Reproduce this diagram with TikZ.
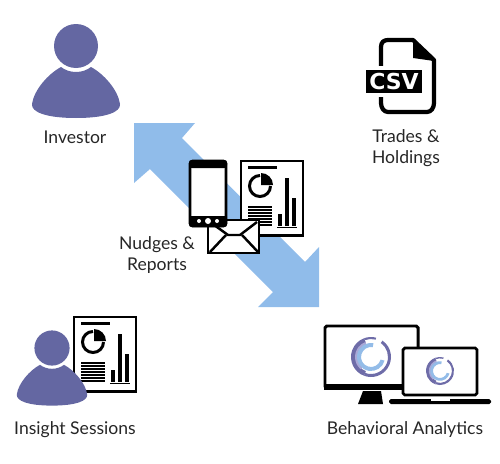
\documentclass[tikz,border=0pt]{standalone}
\usepackage{fontspec}
\setmainfont{Lato}
\newfontfamily\csvfont{DejaVu Sans}
\usepackage{xcolor}
\usetikzlibrary{positioning, calc}
\definecolor{personblue}{HTML}{6467A2}
\definecolor{flowblue}{HTML}{90BCEA}
\definecolor{ringdark}{HTML}{6E6CA8}
\definecolor{ringmid}{HTML}{A9A8D6}
\definecolor{ringlight}{HTML}{93BCE8}
\newcommand{\ringpart}[4]{
  (#1:#3) arc[start angle=#1, end angle=#2, radius=#3]
  -- (#2:#4) arc[start angle=#2, end angle=#1, radius=#4] -- cycle
}
\tikzset{
  caption/.style={
    align=center, font=\fontsize{10}{12}\selectfont, text=black!85,
    inner sep=0pt
  },
  flowarrow/.style={fill=flowblue},
  sheet/.style={draw=black, fill=white, line width=1.6pt},
  person/.pic={
    \fill[personblue] (0,0) circle[radius=22];
    \fill[personblue] (0,26) .. controls (-6,26) and (-11,24) .. (-15,21)
      .. controls (-28,28) and (-42,44) .. (-44,58)
      .. controls (-45,66) and (-30,72) .. (0,72)
      .. controls (30,72) and (45,66) .. (44,58)
      .. controls (42,44) and (28,28) .. (15,21)
      .. controls (11,24) and (6,26) .. (0,26) -- cycle;
  },
  report/.pic={
    \draw[sheet] (1,1) rectangle (63,75);
    \fill[black] (0,74) rectangle (64,77);
    \fill[black] (8,6) rectangle (37,9);
    \draw[black, line width=1.7pt] (20,15.5) arc[start angle=-90, end angle=-360, radius=10.5];
    \fill[black] (21,13) -- (21,25) -- (33,25) arc[start angle=0, end angle=-90, radius=12] -- cycle;
    \foreach \ly in {46,49,...,64}
      \fill[black] (8,\ly) rectangle (32,\ly+1.6);
    \fill[black] (38,54) rectangle (42,66);
    \fill[black] (45,18) rectangle (49,66);
    \fill[black] (52,38) rectangle (56,66);
    \draw[black, line width=.3pt] (37,67.5) -- (57,67.5);
  },
  ring/.pic={
    \fill[ringdark] \ringpart{-55}{110}{20}{17};
    \fill[ringdark] \ringpart{110}{250}{20}{15};
    \fill[ringdark] \ringpart{250}{285}{20}{18};
    \fill[ringmid] \ringpart{130}{250}{16}{12};
    \fill[ringlight] \ringpart{280}{15}{14}{10};
  }
}
\begin{document}
\begin{tikzpicture}[x=0.02cm, y=-0.02cm]
\useasboundingbox (0,0) rectangle (500,463);

%% ── Flow arrow ───────────────────────────────────────────────
\coordinate (investorcorner) at (134,123);
\coordinate (analyticscorner) at (319,307);
\fill[flowarrow] (investorcorner) -- ++(61,0) -- ++(-13,15) -- (305,262)
  -- (319,247) -- (analyticscorner) -- ++(-61,0) -- ++(15,-15)
  -- (150,169) -- (134,183) -- cycle;

%% ── Investor ─────────────────────────────────────────────────
\pic (investorfig) at (76,46) {person};
\node[caption] (investor) at (75,137) {Investor};

%% ── Trades ───────────────────────────────────────────────────
\draw[black, line width=2.4pt, line join=round] (381,47) .. controls (381,42) and (384,40) .. (388,40)
  -- (413,40) -- (434,60) -- (434,103) .. controls (434,108) and (431,112) .. (427,112)
  -- (388,112) .. controls (384,112) and (381,108) .. (381,103) -- cycle;
\fill[black] (413,40) -- (413,58) -- (434,61) -- cycle;
\fill[white] (376,66) rectangle (386,97);
\node[fill=black, text=white, minimum width=1.12cm, minimum height=0.46cm, inner sep=0pt,
      font=\fontsize{12.5}{13}\csvfont\bfseries] (csv) at (394,81.5) {CSV};
\node[caption] (trades) at (406,148) {Trades \&\\Holdings};

%% ── Nudges ───────────────────────────────────────────────────
\pic (nudgesheet) at (240,160) {report};
\draw[black, fill=white, line width=1.6pt] (208,220) rectangle (259,253);
\draw[black, line width=1.4pt, line join=round] (210,222) -- (228,235) -- (240,235) -- (257,222);
\draw[black, line width=1.4pt] (210,252) -- (226,235);
\draw[black, line width=1.4pt] (258,252) -- (242,235);
\draw[black, fill=white, line width=1.5pt, rounded corners=1.5pt] (190,161) rectangle (226,226);
\fill[black, rounded corners=1.5pt] (189,160) rectangle (227,168);
\fill[black, rounded corners=1.5pt] (189,216) rectangle (227,227);
\fill[white] (199,221) circle[radius=2];
\fill[white] (208,221) circle[radius=3];
\fill[white] (217,221) circle[radius=2];
\node[caption] (nudges) at (157,255) {Nudges \&\\Reports};

%% ── Insight ──────────────────────────────────────────────────
\pic (insightsheet) at (73,316) {report};
\pic[scale=.8] (insightfig) at (52,348) {person};
\node[caption] (insight) at (75,430) {Insight Sessions};

%% ── Analytics ────────────────────────────────────────────────
\draw[black, fill=white, line width=1.7pt, rounded corners=1pt] (325,326) rectangle (418,388);
\fill[black] (324,384) rectangle (419,390);
\fill[black] (363,391) -- (381,391) -- (383,404) -- (358,404) -- cycle;
\pic (monitorring) at (371,357) {ring};
\draw[black, fill=white, line width=1.6pt, rounded corners=1pt] (403,348) rectangle (477,395);
\fill[black, rounded corners=1pt] (389,399) rectangle (491,404);
\fill[white] (431,399) rectangle (450,400.6);
\pic[scale=.7] (laptopring) at (440,371) {ring};
\node[caption] (analytics) at (405,430) {Behavioral Analytics};

\end{tikzpicture}
\end{document}
